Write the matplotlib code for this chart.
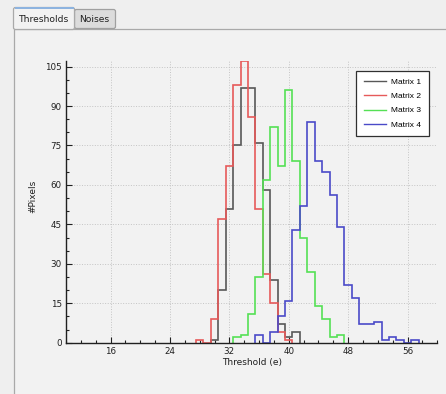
import numpy as np
import matplotlib

matplotlib.use("Agg")
import matplotlib.pyplot as plt
from matplotlib.lines import Line2D
from matplotlib.patches import Rectangle, FancyBboxPatch
from matplotlib.ticker import MultipleLocator
from matplotlib.transforms import Affine2D

# threshold bins (centre values, width 1 e) and pixel counts per matrix
thresholds = np.arange(28, 58)
matrix1 = [0, 0, 1, 20, 51, 75, 97, 97, 76, 58, 24, 7, 2, 4] + [0] * 16
matrix2 = [1, 0, 9, 47, 67, 98, 107, 86, 51, 26, 15, 4, 1] + [0] * 17
matrix3 = [0] * 5 + [2, 3, 11, 25, 62, 82, 67, 96, 69, 40, 27, 14, 9, 2, 3] + [0] * 10
matrix4 = [0] * 8 + [3, 0, 4, 10, 16, 43, 52, 84, 69, 65, 56, 44, 22, 17,
                     7, 7, 8, 1, 2, 1, 0, 1]

series = [
    ("Matrix 1", matrix1, "#585858"),
    ("Matrix 2", matrix2, "#e65a5a"),
    ("Matrix 3", matrix3, "#55e055"),
    ("Matrix 4", matrix4, "#4a4ac8"),
]
tab_names = ["Thresholds", "Noises"]

W, H = 446, 394
fig = plt.figure(figsize=(W / 100, H / 100), dpi=100, facecolor="#efefef")
# pixel coordinates, y pointing down
pix = Affine2D().scale(1 / W, -1 / H).translate(0, 1) + fig.transFigure


def add_patch(p):
    p.set_zorder(-5)
    fig.patches.append(p)


# tab pane
add_patch(Rectangle((13.5, 28.5), 440, 380, transform=pix,
                    facecolor="#f2f2f2", edgecolor="#a9a9a9", lw=0.9))
# inactive tab
add_patch(FancyBboxPatch((74.5, 9.5), 41, 19, transform=pix,
                         boxstyle="round,pad=0,rounding_size=2",
                         facecolor="#dcdcdc", edgecolor="#a0a0a0", lw=0.9))
# active tab
add_patch(FancyBboxPatch((13.5, 7.5), 61, 22, transform=pix,
                         boxstyle="round,pad=0,rounding_size=2",
                         facecolor="#f2f2f2", edgecolor="#a9a9a9", lw=0.9))
add_patch(Rectangle((14.5, 7.2), 59, 1.4, transform=pix,
                    facecolor="#8db3df", edgecolor="none"))
fig.text(19 / W, 1 - 22.5 / H, tab_names[0], fontsize=6.6, color="#202020")
fig.text(79 / W, 1 - 22.5 / H, tab_names[1], fontsize=6.6, color="#202020")

ax = fig.add_axes([66 / W, 1 - 342.7 / H, (437.3 - 66) / W, (342.7 - 61.3) / H])
ax.set_facecolor("none")

edges = np.append(thresholds - 0.5, thresholds[-1] + 0.5)
handles = []
for name, counts, color in series:
    counts = np.asarray(counts)
    nz = np.nonzero(counts)[0]
    lo, hi = nz[0], nz[-1] + 1
    ax.stairs(counts[lo:hi], edges[lo:hi + 1], baseline=0,
              color=color, lw=1.2, zorder=2)
    handles.append(Line2D([], [], color=color, lw=1.0, label=name))

ax.set_xlim(10, 60)
ax.set_ylim(0, 107)
ax.xaxis.set_major_locator(MultipleLocator(8))
ax.xaxis.set_minor_locator(MultipleLocator(2))
ax.yaxis.set_major_locator(MultipleLocator(15))
ax.yaxis.set_minor_locator(MultipleLocator(5))

for side in ("top", "right"):
    ax.spines[side].set_visible(False)
for side in ("left", "bottom"):
    ax.spines[side].set_color("#202020")
    ax.spines[side].set_linewidth(1.0)

ax.tick_params(which="both", direction="in", colors="#202020", width=0.8)
ax.tick_params(which="major", length=4, labelsize=6.3, pad=3)
ax.tick_params(which="minor", length=2.5)
ax.grid(which="major", color="#c4c4c4", linestyle=":", linewidth=0.7, zorder=0)

ax.set_xlabel("Threshold (e)", fontsize=6.5, color="#202020")
ax.set_ylabel("#Pixels", fontsize=6.5, color="#202020")
ax.xaxis.set_label_coords(0.5, -0.055)
ax.yaxis.set_label_coords(-0.078, 0.52)

leg = ax.legend(
    handles=handles,
    loc="upper left",
    bbox_to_anchor=(356 / W, 1 - 71 / H),
    bbox_transform=fig.transFigure,
    prop={"family": "Liberation Sans", "size": 6},
    frameon=True,
    fancybox=False,
    handlelength=2.7,
    handletextpad=0.6,
    labelspacing=0.75,
    borderpad=0.9,
    borderaxespad=0,
)
frame = leg.get_frame()
frame.set_facecolor("white")
frame.set_edgecolor("#303030")
frame.set_linewidth(0.9)
frame.set_alpha(1)
leg.set_zorder(5)

fig.savefig("out.png", dpi=100, facecolor=fig.get_facecolor())
plt.close(fig)
